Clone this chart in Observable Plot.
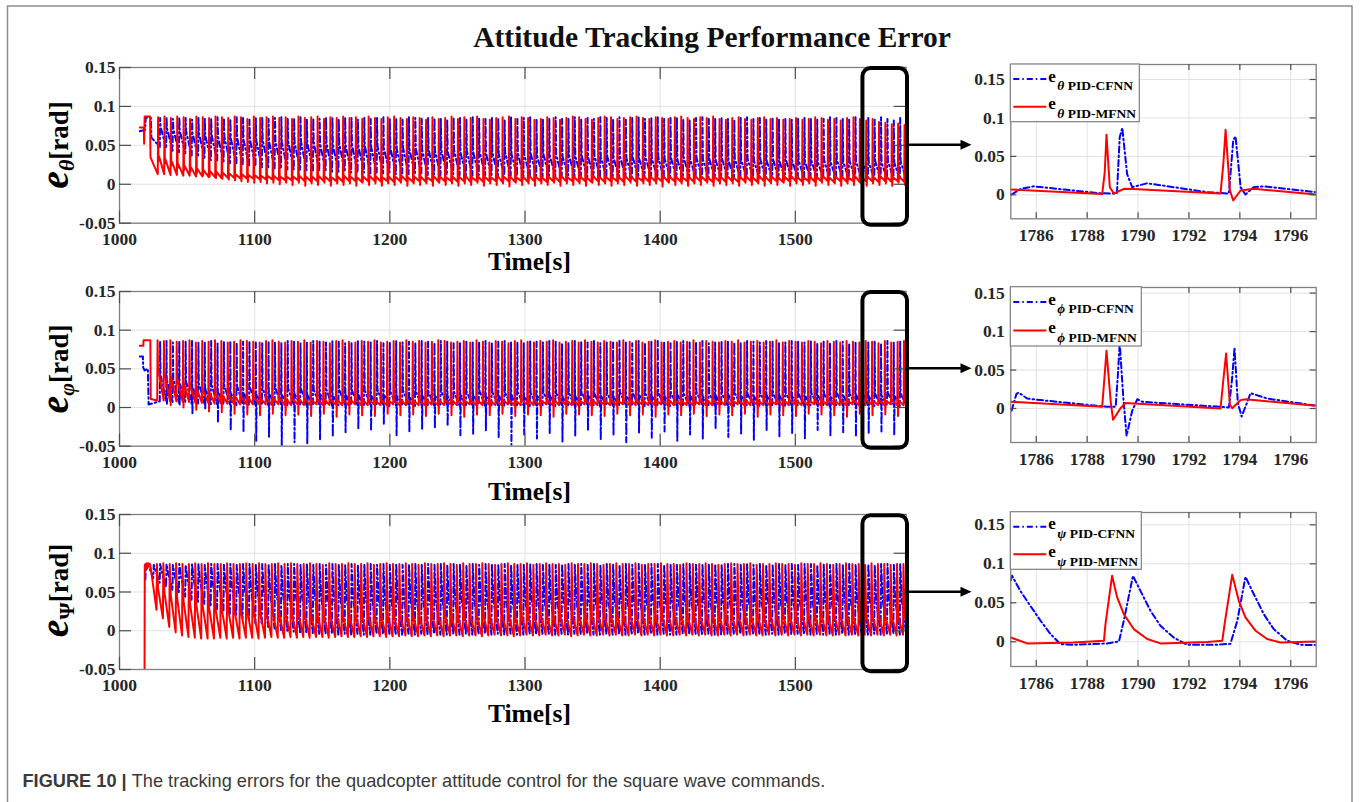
<!DOCTYPE html>
<html>
<head>
<meta charset="utf-8">
<script src="https://cdn.jsdelivr.net/npm/d3@7"></script>
<script src="https://cdn.jsdelivr.net/npm/@observablehq/plot@0.6"></script>
<style>
  html, body { margin: 0; padding: 0; background: #fff; }
  #fig { position: relative; width: 1360px; height: 802px; overflow: hidden; background: #fff; }
  #fig > svg { position: absolute; }
</style>
</head>
<body>
<div id="fig"></div>
<script>
// ---------------------------------------------------------------------------
// Data
// Main panels: each trace is an initial transient followed by periodic error
// spikes (one per square-wave edge). Per spike: peak, optional undershoot
// ("dip"), value after the fast drop ("mid") and the trough before the next
// spike ("low"). Spike values are in 1e-3 rad.
// ---------------------------------------------------------------------------
const PERIOD = 4.72;                       // s between successive spikes
const mainXDomain = [1000, 1582];
const mainYDomain = [-0.05, 0.15];
const mainXTicks = [1000, 1100, 1200, 1300, 1400, 1500];
const mainYTicks = [-0.05, 0, 0.05, 0.1, 0.15];
const mainYTickLabels = ["-0.05", "0", "0.05", "0.1", "0.15"];

const firstSpike = {
  thetaCfnn: 1029.8, thetaMfnn: 1028.3,
  phiCfnn: 1029.8,   phiMfnn: 1027.9,
  psiCfnn: 1025.0,   psiMfnn: 1027.4
};

// spike timing template (s): rise to peak, drop, return after undershoot
const spikeShape = {
  thetaCfnn: {rise: 0.25, fall: 0.35},
  thetaMfnn: {rise: 0.25, fall: 0.3, back: 0.4},
  phiCfnn:   {rise: 0.25, fall: 0.3, back: 0.3},
  phiMfnn:   {rise: 0.25, fall: 0.3, back: 0.3},
  psiCfnn:   {rise: 0.35, fall: 1.2},
  psiMfnn:   {rise: 0.3,  fall: 0.8}
};

// ---- e_theta ----
const thetaCfnnLead = [[1015.0, 0.068], [1019.0, 0.070], [1019.4, 0.086], [1023.2, 0.085], [1023.6, 0.060], [1029.8, 0.048]];
const thetaCfnnPeak = [85,86,84,86,85,83,86,85,84,86, 85,84,86,85,83,85,86,84,85,86, 84,85,86,83,85,84,86,85,84,86, 85,83,86,84,85,86,84,85,83,86, 85,84,86,85,84,83,86,85,84,86, 85,84,86,85,83,86,84,85,86,84, 83,85,86,84,85,86,83,85,84,86, 85,84,86,83,85,86,84,85,86,84, 85,86,84,83,85,86,84,85,86,84, 83,85,86,84,85,83,86,84,85,83, 84,86,85,83,84,86,85,84,83,86, 84,85,83,86,84,82,85,83];
const thetaCfnnMid  = [74,72,71,69,68,66,66,63,63,61, 61,59,60,57,58,56,57,55,56,54, 55,54,55,53,54,52,53,51,52,50, 51,49,50,48,49,47,48,46,47,45, 46,44,45,43,44,42,44,41,43,41, 42,40,41,39,41,39,40,38,40,37, 39,37,38,36,38,36,37,35,37,35, 36,34,36,34,35,33,35,33,35,33, 34,32,34,32,34,32,33,31,33,31, 33,31,33,30,32,30,32,30,32,30, 31,29,31,29,31,29,31,29,30,29, 30,28,30,28,30,28,29,28];
const thetaCfnnLow  = [46,43,41,39,37,35,33,31,30,28, 27,26,25,24,23,22,21,20,20,19, 19,18,18,17,17,17,16,16,16,15, 15,15,14,15,14,14,13,14,13,13, 13,12,13,12,12,13,12,12,11,12, 12,11,11,12,11,11,10,11,11,10, 11,10,10,11,10,10,9,10,10,9, 10,9,10,9,9,10,9,9,8,9, 9,8,9,9,8,9,8,8,9,8, 8,9,8,8,7,8,8,7,8,8, 7,8,7,8,7,7,8,7,7,8, 7,7,6,7,7,6,7,6];

const thetaMfnnLead = [[1015.0, 0.073], [1018.0, 0.073], [1018.2, 0.052], [1018.6, 0.087], [1022.6, 0.087], [1022.9, 0.035], [1025.5, 0.024], [1028.3, 0.013]];
const thetaMfnnPeak = [86,87,85,87,86,84,87,86,85,87, 86,85,87,86,84,87,85,86,87,85, 86,84,87,85,86,87,84,86,85,87, 85,86,84,87,85,84,86,87,85,84, 86,85,83,86,84,85,87,84,86,85, 87,84,83,85,86,87,84,86,85,83, 84,86,85,83,85,87,86,84,83,85, 87,86,84,85,86,87,85,84,86,85, 84,86,87,85,84,86,85,87,84,83, 85,86,84,83,85,86,84,85,83,84, 85,83,84,86,85,83,84,82,85,86, 84,82,84,80,79,77,78,76];
const thetaMfnnDip  = [30,27,24,21,18,16,14,12,10,8, 7,6,5,4,3,2,3,1,2,0, 2,-1,2,-2,1,-1,2,-2,1,-1, 1,-2,2,-1,1,-2,1,-1,2,-2, 1,-1,1,-2,2,-1,1,-2,1,-1, 2,-2,1,-1,1,-3,2,-1,1,-2, 1,-1,2,-2,1,-1,1,-2,2,-1, 1,-2,1,-1,2,-2,1,-1,1,-3, 2,-1,1,-2,1,-1,2,-2,1,-1, 1,-2,2,-1,1,-2,1,-1,2,-2, 1,-1,1,-2,2,-1,1,-2,1,-1, 2,-2,1,-1,1,-2,2,-1];
const thetaMfnnMid  = [36,32,29,26,24,22,20,18,17,16, 15,14,13,13,12,12,11,11,11,10, 10,10,11,10,10,11,10,9,10,11, 10,9,10,11,10,9,10,10,11,9, 10,10,9,11,10,9,10,10,11,9, 10,10,9,11,10,10,9,10,11,10, 9,10,10,11,9,10,10,9,11,10, 10,9,10,11,10,9,10,10,9,11, 10,10,9,10,11,10,9,10,10,11, 9,10,10,9,11,10,10,9,10,11, 10,9,10,10,11,9,10,10,9,11, 10,10,9,11,10,9,10,10];
const thetaMfnnLow  = [13,12,12,11,11,10,10,9,9,8, 8,8,7,7,7,6,6,6,5,5, 5,5,4,4,4,4,4,4,3,4, 4,3,4,4,3,4,3,4,4,3, 4,3,4,3,4,4,3,4,3,4, 3,4,4,3,4,3,4,3,4,4, 3,4,3,4,4,3,4,3,4,3, 4,4,3,4,3,4,3,4,4,3, 4,3,4,3,4,4,3,4,3,4, 3,4,4,3,4,3,4,3,4,4, 3,4,3,4,4,3,4,3,4,3, 4,4,3,4,3,4,3,4];

// ---- e_phi ----
const phiCfnnLead = [[1015.0, 0.066], [1017.3, 0.066], [1017.5, 0.052], [1018.5, 0.048], [1021.0, 0.050], [1021.5, 0.004], [1029.8, 0.008]];
const phiCfnnPeak = [85,86,84,86,85,86,84,85,86,83, 85,86,84,85,86,84,83,86,85,84, 86,85,83,84,86,85,84,86,85,83, 84,86,85,84,86,83,85,86,84,85, 83,86,85,84,86,85,83,84,86,85, 84,86,83,85,86,84,85,83,86,85, 84,86,85,83,84,86,85,84,86,83, 85,84,86,85,83,86,84,85,86,84, 83,85,86,84,85,86,83,84,86,85, 84,83,86,85,84,86,85,83,84,86, 85,84,86,83,85,84,86,85,83,85, 86,84,85,83,86,84,85,84];
const phiCfnnDip  = [40,5,36,3,32,-9,30,-3,28,-20, 27,-30,26,-32,25,-43,25,-38,24,-49, 24,-45,23,-47,23,-41,22,-38,22,-32, 22,-28,21,-30,21,-21,21,-36,20,-32, 20,-28,20,-27,20,-24,20,-36,19,-34, 19,-30,19,-38,19,-48,19,-35,19,-40, 19,-33,18,-44,18,-37,18,-30,18,-42, 18,-36,18,-45,18,-33,18,-39,18,-31, 18,-43,18,-35,18,-40,18,-28,18,-38, 18,-34,18,-42,18,-30,18,-37,18,-33, 18,-40,18,-29,18,-36,18,-32,18,-38, 18,-34,18,-31,18,-36,18,-30];
const phiCfnnMid  = [40,34,36,30,32,26,30,24,28,20, 27,18,26,19,25,17,24,18,24,16, 23,17,23,16,22,17,22,15,22,16, 21,16,21,15,22,16,20,15,21,14, 20,16,19,15,20,14,19,16,19,15, 20,14,19,15,18,16,19,14,18,15, 19,16,18,14,18,15,19,16,17,15, 18,14,19,15,18,16,17,15,18,14, 18,16,17,15,19,14,18,15,17,16, 18,15,17,14,18,16,17,15,18,14, 17,15,18,16,17,14,18,15,17,16, 18,14,17,15,18,16,17,15];
const phiCfnnLow  = [8,7,6,6,5,5,5,4,4,4, 4,3,4,3,3,4,3,3,4,3, 3,4,3,3,4,3,2,3,4,3, 3,2,4,3,3,2,3,4,3,2, 3,3,2,4,3,3,2,3,3,4, 2,3,3,2,4,3,3,2,3,3, 4,2,3,3,2,3,4,3,2,3, 3,2,4,3,3,2,3,3,4,2, 3,3,2,3,4,3,2,3,3,2, 4,3,3,2,3,3,4,2,3,3, 2,3,4,3,2,3,3,2,4,3, 3,2,3,3,4,2,3,3];

const phiMfnnLead = [[1015.0, 0.080], [1017.6, 0.080], [1017.8, 0.087], [1022.8, 0.087], [1023.1, 0.011], [1027.9, 0.009]];
const phiMfnnPeak = [87,86,87,85,86,87,84,86,85,87, 86,84,85,87,86,85,84,86,87,85, 84,86,85,87,84,86,85,83,86,87, 85,84,86,85,87,84,85,86,84,87, 85,86,84,85,87,86,84,85,86,84, 87,85,84,86,85,83,86,87,85,84, 86,85,87,84,85,86,84,87,85,84, 86,85,84,87,85,86,84,85,87,84, 85,86,84,85,87,84,86,85,84,86, 85,87,84,85,86,84,85,87,84,86, 85,84,86,85,83,86,85,84,86,85, 84,86,85,83,86,84,85,86];
const phiMfnnDip  = [50,44,3,36,0,28,-3,22,-5,18, -6,16,-8,14,-9,13,-10,12,-8,12, -10,11,-9,11,-11,10,-8,10,-12,10, -9,10,-10,10,-11,9,-8,9,-10,9, -9,9,-11,9,-8,9,-10,9,-12,9, -9,9,-10,9,-8,9,-11,9,-9,9, -10,9,-12,9,-8,9,-9,9,-10,9, -11,9,-8,9,-10,9,-9,9,-12,9, -9,9,-10,9,-8,9,-11,9,-9,9, -10,9,-8,9,-12,9,-9,9,-10,9, -11,9,-8,9,-9,9,-10,9,-12,9, -8,9,-10,9,-9,9,-11,9];
const phiMfnnMid  = [50,44,40,36,32,28,25,22,20,18, 17,16,15,14,14,13,12,12,12,12, 11,11,12,11,10,10,11,10,10,10, 11,10,10,10,9,9,10,9,10,9, 9,9,10,9,9,9,10,9,9,9, 10,9,9,9,10,9,9,9,10,9, 9,9,10,9,9,9,9,9,10,9, 9,9,9,9,10,9,9,9,9,9, 10,9,9,9,9,9,10,9,9,9, 9,9,10,9,9,9,9,9,10,9, 9,9,9,9,10,9,9,9,9,9, 10,9,9,9,9,9,9,9];
const phiMfnnLow  = [9,8,8,7,7,6,6,6,5,5, 5,5,4,4,4,4,4,3,4,3, 3,4,3,3,4,3,3,4,3,3, 4,3,3,4,3,3,4,3,3,4, 3,3,4,3,3,4,3,3,4,3, 3,4,3,3,4,3,3,4,3,3, 4,3,3,4,3,3,4,3,3,4, 3,3,4,3,3,4,3,3,4,3, 3,4,3,3,4,3,3,4,3,3, 4,3,3,4,3,3,4,3,3,4, 3,3,4,3,3,4,3,3,4,3, 3,4,3,3,4,3,3,4];

// ---- e_psi ----
const psiCfnnLead = [[1019.1, 0.066], [1019.6, 0.085], [1021.0, 0.086], [1025.0, 0.068]];
const psiCfnnPeak = [85,86,86,85,86,85,86,86,85,86, 86,85,86,85,86,86,85,86,85,86, 85,86,86,85,86,85,86,85,86,86, 85,86,85,86,86,85,86,85,86,85, 86,86,85,86,85,86,85,86,86,85, 86,85,86,86,85,86,85,86,85,86, 86,85,86,85,86,86,85,86,85,86, 85,86,86,85,86,85,86,85,86,86, 85,86,85,86,86,85,86,85,86,85, 86,86,85,86,85,86,85,86,86,85, 86,85,86,86,85,86,85,86,85,86, 86,85,86,85,86,86,85,86];
const psiCfnnMid  = [78,76,74,72,70,68,66,64,63,61, 60,58,57,56,55,53,52,51,50,49, 48,47,47,46,45,45,44,44,43,43, 42,42,41,42,40,41,40,39,40,39, 40,38,39,40,38,39,38,39,40,38, 39,38,40,39,38,39,38,40,38,39, 38,39,40,38,39,38,39,38,40,39, 38,39,38,40,39,38,39,38,39,40, 38,39,38,39,40,38,39,38,39,38, 40,39,38,39,38,39,40,38,39,38, 39,38,40,39,38,39,38,39,40,38, 39,38,39,38,40,39,38,39];
const psiCfnnLow  = [62,57,52,48,44,40,37,34,31,28, 25,22,19,16,13,10,8,5,3,1, 0,-1,-2,-3,-3,-4,-4,-4,-5,-4, -5,-4,-5,-5,-4,-5,-4,-5,-5,-4, -5,-4,-5,-4,-5,-5,-4,-5,-4,-5, -5,-4,-5,-4,-5,-4,-5,-5,-4,-5, -4,-5,-5,-4,-5,-4,-5,-4,-5,-5, -4,-5,-4,-5,-5,-4,-5,-4,-5,-4, -5,-5,-4,-5,-4,-5,-4,-5,-5,-4, -5,-4,-5,-4,-5,-5,-4,-5,-4,-5, -4,-5,-5,-4,-5,-4,-5,-4,-5,-5, -4,-5,-4,-5,-5,-4,-5,-4];

const psiMfnnLead = [[1018.5, -0.090], [1018.7, 0.085], [1019.8, 0.087], [1020.5, 0.080], [1021.4, 0.087], [1022.7, 0.086], [1027.4, 0.027]];
const psiMfnnPeak = [86,87,86,87,86,86,87,86,87,86, 86,87,86,86,87,86,87,86,86,87, 86,87,86,86,87,86,85,87,86,86, 87,86,86,87,85,86,87,86,86,87, 86,85,87,86,86,87,86,85,87,86, 86,87,86,85,86,87,86,86,87,85, 86,87,86,86,85,87,86,86,87,86, 85,86,87,86,86,87,85,86,86,87, 86,86,85,87,86,86,87,86,85,86, 87,86,86,87,85,86,86,87,86,86, 85,87,86,86,87,86,85,86,87,86, 86,85,87,86,86,85,86,86];
const psiMfnnMid  = [55,50,46,42,39,36,34,32,30,29, 28,27,26,25,25,24,24,23,23,22, 22,21,22,21,20,21,20,19,20,19, 20,19,19,20,18,19,20,19,18,19, 20,18,19,19,18,20,19,18,19,18, 19,20,18,19,18,19,18,20,19,18, 19,18,19,20,18,19,18,19,18,20, 19,18,19,18,20,19,18,19,18,19, 20,18,19,18,19,18,20,19,18,19, 18,19,20,18,19,18,19,18,20,19, 18,19,18,19,20,18,19,18,19,18, 20,19,18,19,18,19,18,20];
const psiMfnnLow  = [16,5,-2,-6,-8,-9,-10,-10,-10,-9, -10,-9,-10,-9,-9,-10,-9,-8,-9,-9, -8,-9,-8,-9,-8,-8,-9,-8,-7,-8, -8,-7,-8,-7,-7,-8,-7,-7,-6,-7, -7,-6,-7,-6,-7,-6,-6,-7,-6,-6, -7,-6,-5,-6,-6,-7,-6,-5,-6,-6, -5,-6,-6,-5,-7,-6,-5,-6,-6,-5, -6,-5,-6,-6,-5,-6,-5,-6,-5,-6, -6,-5,-6,-5,-6,-5,-6,-6,-5,-6, -5,-6,-5,-6,-6,-5,-6,-5,-6,-5, -6,-5,-6,-5,-6,-6,-5,-6,-5,-6, -5,-6,-5,-6,-5,-6,-5,-6];

// ---------------------------------------------------------------------------
// Zoomed windows (right column): [time s, error rad]
// ---------------------------------------------------------------------------
const insetXDomain = [1785, 1797];
const insetXTicks = [1786, 1788, 1790, 1792, 1794, 1796];
const insetYTicks = [0, 0.05, 0.1, 0.15];
const insetYTickLabels = ["0", "0.05", "0.1", "0.15"];
const insetYDomains = [[-0.0312, 0.1695], [-0.0442, 0.1573], [-0.0317, 0.1658]];

const thetaCfnnZoom = [[1785.03,0.0004],[1785.4,0.0078],[1785.9,0.011],[1788.5,0.002],[1789.17,0.0017],[1789.28,0.075],[1789.38,0.087],[1789.57,0.027],[1789.77,0.010],[1790.36,0.015],[1791.4,0.0099],[1792.72,0.0034],[1793.57,0.0017],[1793.74,0.071],[1793.83,0.076],[1794.03,0.0099],[1794.22,0.0004],[1794.55,0.010],[1794.94,0.011],[1797.0,0.0034]];
const thetaMfnnZoom = [[1785.0,0.0069],[1788.59,0.0009],[1788.69,0.029],[1788.76,0.078],[1788.89,0.0099],[1789.05,0.0017],[1789.44,0.0078],[1789.8,0.0074],[1793.24,0.0017],[1793.35,0.040],[1793.44,0.0845],[1793.61,0.0056],[1793.74,-0.0074],[1794.03,0.0056],[1794.55,0.0078],[1797.0,0.0004]];
const phiCfnnZoom = [[1785.03,-0.003],[1785.22,0.0187],[1785.3,0.0208],[1785.64,0.013],[1786.17,0.0109],[1788.79,0.0022],[1789.12,0.0022],[1789.2,0.040],[1789.28,0.085],[1789.42,0.0143],[1789.55,-0.0355],[1789.77,-0.003],[1789.97,0.012],[1790.17,0.0087],[1793.24,0.0022],[1793.57,0.0013],[1793.7,0.040],[1793.79,0.079],[1793.92,0.0074],[1794.07,-0.0104],[1794.28,0.0074],[1794.42,0.020],[1795.07,0.013],[1797.0,0.0035]];
const phiMfnnZoom = [[1785.03,0.0087],[1788.59,0.0022],[1788.68,0.040],[1788.76,0.075],[1788.93,0.0074],[1789.02,-0.0147],[1789.31,0.0004],[1789.5,0.007],[1793.24,0.0],[1793.36,0.040],[1793.46,0.0715],[1793.61,0.0048],[1793.7,0.0004],[1794.03,0.0109],[1794.22,0.012],[1797.0,0.0035]];
const psiCfnnZoom = [[1785.0,0.079],[1785.05,0.0846],[1785.38,0.065],[1785.77,0.046],[1786.17,0.027],[1786.56,0.0099],[1786.95,-0.003],[1787.47,-0.0039],[1788.79,-0.0021],[1789.25,0.0004],[1789.44,0.027],[1789.8,0.0846],[1790.1,0.065],[1790.49,0.0397],[1790.88,0.0205],[1791.4,0.0055],[1791.93,-0.0039],[1792.98,-0.0039],[1793.63,-0.0026],[1793.9,0.027],[1794.22,0.0833],[1794.55,0.061],[1794.94,0.0355],[1795.33,0.0163],[1795.86,0.0013],[1796.4,-0.0039],[1797.0,-0.0043]];
const psiMfnnZoom = [[1785.0,0.0055],[1785.64,-0.0021],[1787.47,-0.0009],[1788.66,0.0013],[1788.72,0.0227],[1788.98,0.0846],[1789.18,0.0568],[1789.44,0.0355],[1789.83,0.0163],[1790.36,0.0035],[1790.88,-0.0021],[1792.72,-0.0004],[1793.31,0.0013],[1793.4,0.0227],[1793.7,0.0859],[1793.96,0.0526],[1794.22,0.0312],[1794.62,0.0141],[1795.07,0.0035],[1795.6,-0.0009],[1797.0,0.0004]];

const angleNames = ["θ", "ϕ", "ψ"];
const axisSymbols = ["θ", "φ", "Ψ"];
const seriesNames = ["PID-CFNN", "PID-MFNN"];

// ---------------------------------------------------------------------------
// Styling
// ---------------------------------------------------------------------------
const BLUE = "#0000ff", RED = "#ff0000";
const SERIF = "'Liberation Serif','Times New Roman',Times,serif";
const SANS = "'Liberation Sans',Arial,Helvetica,sans-serif";
const GRID = "#e2e2e2", FRAME = "#808080", TICK = "#4d4d4d", INK = "#262626";
const DASHDOT = "6,3,1.5,3";
const TICK_FONT = {fontFamily: SERIF, fontSize: 17.5, fontWeight: "bold", fill: INK};

// ---------------------------------------------------------------------------
// Build a trace table from the lead-in points and the per-spike arrays
// ---------------------------------------------------------------------------
function spikeTrace(lead, first, shape, peak, mid, low, dip) {
  const rows = lead.map(([t, v]) => ({t, v}));
  let prev = rows.length ? rows[rows.length - 1].v : low[0] / 1000;
  peak.forEach((p, k) => {
    const s = first + k * PERIOD;
    rows.push({t: s, v: prev});
    rows.push({t: s + shape.rise, v: p / 1000});
    let t = s + shape.rise + shape.fall;
    if (dip) { rows.push({t, v: dip[k] / 1000}); t += shape.back; }
    rows.push({t, v: mid[k] / 1000});
    prev = low[k] / 1000;
  });
  rows.push({t: first + peak.length * PERIOD, v: prev});
  return rows;
}
const pairs = arr => arr.map(([t, v]) => ({t, v}));

const mainTraces = [
  {
    blue: spikeTrace(thetaCfnnLead, firstSpike.thetaCfnn, spikeShape.thetaCfnn, thetaCfnnPeak, thetaCfnnMid, thetaCfnnLow),
    red:  spikeTrace(thetaMfnnLead, firstSpike.thetaMfnn, spikeShape.thetaMfnn, thetaMfnnPeak, thetaMfnnMid, thetaMfnnLow, thetaMfnnDip)
  },
  {
    blue: spikeTrace(phiCfnnLead, firstSpike.phiCfnn, spikeShape.phiCfnn, phiCfnnPeak, phiCfnnMid, phiCfnnLow, phiCfnnDip),
    red:  spikeTrace(phiMfnnLead, firstSpike.phiMfnn, spikeShape.phiMfnn, phiMfnnPeak, phiMfnnMid, phiMfnnLow, phiMfnnDip)
  },
  {
    blue: spikeTrace(psiCfnnLead, firstSpike.psiCfnn, spikeShape.psiCfnn, psiCfnnPeak, psiCfnnMid, psiCfnnLow),
    red:  spikeTrace(psiMfnnLead, firstSpike.psiMfnn, spikeShape.psiMfnn, psiMfnnPeak, psiMfnnMid, psiMfnnLow)
  }
];
const zoomTraces = [
  {blue: pairs(thetaCfnnZoom), red: pairs(thetaMfnnZoom)},
  {blue: pairs(phiCfnnZoom),   red: pairs(phiMfnnZoom)},
  {blue: pairs(psiCfnnZoom),   red: pairs(psiMfnnZoom)}
];

// ---------------------------------------------------------------------------
// Layout (page pixels)
// ---------------------------------------------------------------------------
const mainFrames = [
  {top: 67,    bottom: 222.7, labelY: 145,   timeY: 270},
  {top: 291,   bottom: 445.7, labelY: 369,   timeY: 500},
  {top: 514.3, bottom: 669.3, labelY: 590.5, timeY: 722}
];
const MAIN_LEFT = 119, MAIN_RIGHT = 905.7;
const zoomFrames = [
  {top: 64,    bottom: 218.3, legendW: 129, legendH: 57.7},
  {top: 286.7, bottom: 441.7, legendW: 131, legendH: 59.3},
  {top: 511.7, bottom: 665.7, legendW: 131, legendH: 57.6}
];
const ZOOM_LEFT = 1010.3, ZOOM_RIGHT = 1315.7;

const fig = document.getElementById("fig");
const plotStyle = `font-family: ${SERIF}; font-size: 17.5px; font-weight: bold; color: ${INK}; background: transparent; overflow: visible;`;

function insideTicks(xTicks, yTicks, w, h, len) {
  return [
    Plot.tickX(xTicks, {insetTop: h - len, stroke: TICK, strokeWidth: 1.2}),
    Plot.tickX(xTicks, {insetBottom: h - len, stroke: TICK, strokeWidth: 1.2}),
    Plot.tickY(yTicks, {insetRight: w - len, stroke: TICK, strokeWidth: 1.2}),
    Plot.tickY(yTicks, {insetLeft: w - len, stroke: TICK, strokeWidth: 1.2})
  ];
}

// ---- main panels ----
const mainCharts = mainFrames.map((f, i) => {
  const mt = 10, mb = 45, W = 940;
  const h = f.bottom - f.top, w = MAIN_RIGHT - MAIN_LEFT;
  const chart = Plot.plot({
    width: W, height: mt + h + mb,
    marginTop: mt, marginBottom: mb, marginLeft: MAIN_LEFT, marginRight: W - MAIN_RIGHT,
    x: {domain: mainXDomain},
    y: {domain: mainYDomain},
    style: plotStyle,
    marks: [
      Plot.ruleX(mainXTicks, {stroke: GRID}),
      Plot.ruleY(mainYTicks, {stroke: GRID}),
      Plot.line(mainTraces[i].blue, {x: "t", y: "v", stroke: BLUE, strokeWidth: 2, strokeDasharray: DASHDOT, clip: true}),
      Plot.line(mainTraces[i].red, {x: "t", y: "v", stroke: RED, strokeWidth: 2, clip: true}),
      Plot.frame({stroke: FRAME, strokeWidth: 1.3}),
      ...insideTicks(mainXTicks, mainYTicks, w, h, 12),
      Plot.axisX(mainXTicks, {tickSize: 0, tickPadding: 9, label: null, tickFormat: d => String(d), ...TICK_FONT}),
      Plot.axisY(mainYTicks, {tickSize: 0, tickPadding: 4, label: null, tickFormat: d => mainYTickLabels[mainYTicks.indexOf(d)], ...TICK_FONT})
    ]
  });
  chart.style.left = "0px";
  chart.style.top = (f.top - mt) + "px";
  fig.appendChild(chart);
  return {chart, offsetY: f.top - mt, offsetX: 0};
});

// ---- zoomed windows ----
const zoomCharts = zoomFrames.map((f, i) => {
  const mt = 10, mb = 40, left = 940, W = 400;
  const h = f.bottom - f.top, w = ZOOM_RIGHT - ZOOM_LEFT;
  const chart = Plot.plot({
    width: W, height: mt + h + mb,
    marginTop: mt, marginBottom: mb, marginLeft: ZOOM_LEFT - left, marginRight: left + W - ZOOM_RIGHT,
    x: {domain: insetXDomain},
    y: {domain: insetYDomains[i]},
    style: plotStyle,
    marks: [
      Plot.ruleX(insetXTicks, {stroke: GRID}),
      Plot.ruleY(insetYTicks, {stroke: GRID}),
      Plot.line(zoomTraces[i].blue, {x: "t", y: "v", stroke: BLUE, strokeWidth: 2, strokeDasharray: DASHDOT, clip: true}),
      Plot.line(zoomTraces[i].red, {x: "t", y: "v", stroke: RED, strokeWidth: 2, clip: true}),
      Plot.frame({stroke: FRAME, strokeWidth: 1.3}),
      ...insideTicks(insetXTicks, insetYTicks, w, h, 6),
      Plot.axisX(insetXTicks, {tickSize: 0, tickPadding: 10, label: null, tickFormat: d => String(d), ...TICK_FONT}),
      Plot.axisY(insetYTicks, {tickSize: 0, tickPadding: 6, label: null, tickFormat: d => insetYTickLabels[insetYTicks.indexOf(d)], ...TICK_FONT})
    ]
  });
  chart.style.left = left + "px";
  chart.style.top = (f.top - mt) + "px";
  fig.appendChild(chart);
  return {chart, offsetY: f.top - mt, offsetX: left};
});

// ---------------------------------------------------------------------------
// Annotations: figure frame, title, axis titles, highlight boxes, arrows,
// legends and caption
// ---------------------------------------------------------------------------
const svg = d3.create("svg").attr("width", 1360).attr("height", 802)
  .style("left", "0px").style("top", "0px").style("pointer-events", "none");

svg.append("rect").attr("x", 7.5).attr("y", 6).attr("width", 1344.5).attr("height", 840)
  .attr("fill", "none").attr("stroke", "#8c8c8c").attr("stroke-width", 1.5);

svg.append("text").attr("x", 712).attr("y", 47).attr("text-anchor", "middle")
  .attr("font-family", SERIF).attr("font-weight", "bold").attr("font-size", 29.5).attr("fill", "#111")
  .text("Attitude Tracking Performance Error");

mainFrames.forEach((f, i) => {
  const {chart, offsetX, offsetY} = mainCharts[i];
  const sx = chart.scale("x"), sy = chart.scale("y");

  // rotated y-axis title  e_<angle>[rad]
  const g = svg.append("g").attr("transform", `translate(68,${f.labelY}) rotate(-90)`);
  const t = g.append("text").attr("text-anchor", "middle").attr("font-family", SERIF)
    .attr("font-weight", "bold").attr("fill", "#000");
  t.append("tspan").attr("font-style", "italic").attr("font-size", 40).text("e");
  t.append("tspan").attr("font-style", i === 2 ? "normal" : "italic").attr("font-size", 22).attr("dy", 6).text(axisSymbols[i]);
  t.append("tspan").attr("font-size", 27).attr("dy", -6).text("[rad]");

  // x-axis title
  svg.append("text").attr("x", 529.5).attr("y", f.timeY).attr("text-anchor", "middle")
    .attr("font-family", SERIF).attr("font-weight", "bold").attr("font-size", 26)
    .attr("textLength", 83).attr("lengthAdjust", "spacingAndGlyphs").attr("fill", "#000")
    .text("Time[s]");

  // highlight box over the last seconds of the run
  const bx0 = offsetX + sx.apply(1550), bx1 = offsetX + sx.apply(mainXDomain[1]) + 1.3;
  const by0 = offsetY + sy.apply(mainYDomain[1]) + 1, by1 = offsetY + sy.apply(mainYDomain[0]) + 2;
  svg.append("rect").attr("x", bx0).attr("y", by0).attr("width", bx1 - bx0).attr("height", by1 - by0)
    .attr("rx", 8).attr("fill", "none").attr("stroke", "#000").attr("stroke-width", 4);

  // arrow to the zoomed window
  const ay = offsetY + sy.apply(0.05);
  const tip = 971.5;
  svg.append("line").attr("x1", bx1 + 2).attr("x2", tip - 8).attr("y1", ay).attr("y2", ay)
    .attr("stroke", "#000").attr("stroke-width", 2.5);
  svg.append("path").attr("d", `M${tip},${ay} L${tip - 11},${ay - 5} L${tip - 11},${ay + 5} Z`).attr("fill", "#000");
});

// legends of the zoomed windows
zoomFrames.forEach((f, i) => {
  const x0 = ZOOM_LEFT, y0 = f.top;
  const g = svg.append("g");
  g.append("rect").attr("x", x0).attr("y", y0).attr("width", f.legendW).attr("height", f.legendH)
    .attr("fill", "#fff").attr("stroke", FRAME).attr("stroke-width", 1.2);
  const rowY = [y0 + f.legendH * 0.26, y0 + f.legendH * 0.74];
  [BLUE, RED].forEach((c, j) => {
    g.append("line").attr("x1", x0 + 3).attr("x2", x0 + 36).attr("y1", rowY[j]).attr("y2", rowY[j])
      .attr("stroke", c).attr("stroke-width", 2).attr("stroke-dasharray", j === 0 ? DASHDOT : null);
    const t = g.append("text").attr("x", x0 + 38).attr("y", rowY[j] + 2.7)
      .attr("font-family", SERIF).attr("font-weight", "bold").attr("fill", "#000");
    t.append("tspan").attr("font-size", 17).text("e");
    t.append("tspan").attr("font-size", 13.5).attr("font-style", "italic").attr("dy", 8.5).attr("dx", 1.5).text(angleNames[i]);
    t.append("tspan").attr("font-size", 13.5).text(" " + seriesNames[j]);
  });
});

// caption
const cap = svg.append("text").attr("x", 22.5).attr("y", 787).attr("font-family", SANS)
  .attr("font-size", 18.2).attr("fill", "#3a3a3a");
cap.append("tspan").attr("font-weight", "bold").text("FIGURE 10 | ");
cap.append("tspan").text("The tracking errors for the quadcopter attitude control for the square wave commands.");

fig.appendChild(svg.node());
</script>
</body>
</html>
